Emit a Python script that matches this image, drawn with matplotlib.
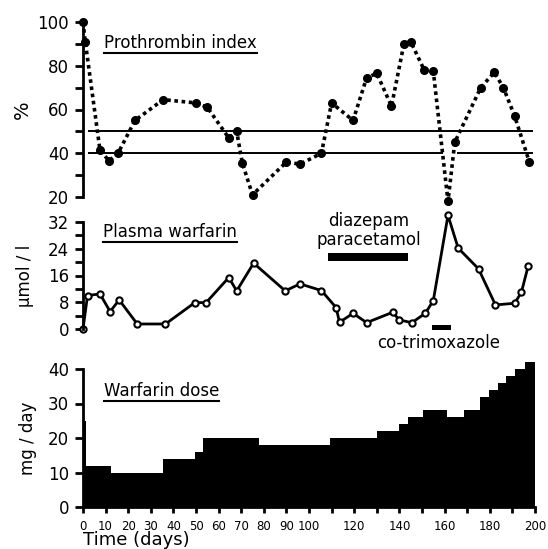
import matplotlib
matplotlib.use("Agg")
import matplotlib.pyplot as plt
from matplotlib.lines import Line2D

# prothrombin index (%)
pt_days = [0, 1, 7.5, 11.5, 15.5, 23, 35.5, 50, 55, 64.5, 68, 70.5, 75, 90, 96, 105.5,
           110, 119.5, 125.5, 130, 136.5, 142, 145, 151, 155, 161.5, 164.5, 176, 182, 186, 191, 197.5]
pt_vals = [100, 91, 41.5, 36.5, 40, 55, 64.5, 63, 61, 47, 50, 35.5, 21, 36, 35, 40,
           63, 55, 74.5, 76.5, 61.5, 90, 91, 78, 77.5, 18, 45, 70, 77, 70, 57, 36]

# plasma warfarin (umol/l)
pw_days = [0, 2, 7.5, 12, 16, 24, 36.5, 49.5, 54.5, 64.5, 68, 75.5, 89.5, 96, 105.5, 112,
           113.5, 119.5, 125.5, 137, 140, 145.5, 151.5, 155, 161.5, 166, 175, 182.5, 191, 194, 197]
pw_vals = [0, 10, 10.5, 5.2, 8.7, 1.5, 1.5, 7.9, 7.9, 15.4, 11.4, 19.7, 11.4, 13.5, 11.5, 6.4,
           2, 4.7, 1.9, 5, 2.7, 1.9, 4.7, 8.5, 34, 24.2, 18, 7.2, 7.7, 11, 18.9]

# warfarin dose (mg/day), steps
dose_edges = [0.3, 1.5, 12.5, 35.5, 49.5, 53, 78, 109.5, 130, 140, 144, 150.5, 161, 168.5,
              175.5, 179.5, 183.5, 187, 191, 195.5, 200]
dose_vals = [25, 12, 10, 14, 16, 20, 18, 20, 22, 24, 26, 28, 26, 28, 32, 34, 36, 38, 40, 42]

# drug periods (days)
diazepam_period = (108.5, 144)
cotrim_period = (154.5, 163)

ref_levels = [50, 40]

x_ticks = list(range(0, 201, 10))
x_labels = [str(t) if (t <= 100 or t % 20 == 0) else '' for t in x_ticks]

W, H = 548, 549
fig = plt.figure(figsize=(W / 100, H / 100), dpi=100)
plt.rcParams['font.family'] = ['DejaVu Sans']


def px_axes(x0, x1, ytop, ybot):
    return fig.add_axes([x0 / W, 1 - ybot / H, (x1 - x0) / W, (ybot - ytop) / H])


ax1 = px_axes(83, 535, 22, 197)
ax2 = px_axes(83, 535, 222, 329)
ax3 = px_axes(83, 535, 369, 507)

for ax in (ax1, ax2, ax3):
    ax.set_xlim(0, 200)
    for s in ('top', 'right'):
        ax.spines[s].set_visible(False)
    ax.spines['left'].set_linewidth(2)
    ax.tick_params(axis='y', direction='out', length=6, width=2, labelsize=12, pad=4)
    ax.set_facecolor('none')

for ax in (ax1, ax2):
    ax.spines['bottom'].set_visible(False)
    ax.set_xticks([])

# top: prothrombin
ax1.set_ylim(20, 100)
ax1.set_yticks([20, 40, 60, 80, 100])
ax1.set_yticks([30, 50, 70, 90], minor=True)
ax1.tick_params(axis='y', which='minor', length=6, width=2)
ax1.hlines(ref_levels[0], 2, 199, color='black', lw=1.4)
ax1.hlines(ref_levels[1], 2, 159.3, color='black', lw=1.4)
ax1.hlines(ref_levels[1], 165.5, 199, color='black', lw=1.4)
ax1.plot(pt_days, pt_vals, linestyle=(0, (1, 1)), lw=2.6, color='black',
         marker='o', markersize=5.5, clip_on=False)
ax1.set_ylabel('%', fontsize=14, labelpad=4)
t1 = ax1.text(9.5, 88, 'Prothrombin index', fontsize=12, va='baseline')

# middle: plasma warfarin
ax2.set_ylim(0, 32)
ax2.set_yticks([0, 8, 16, 24, 32])
ax2.set_yticks([4, 12, 20, 28], minor=True)
ax2.tick_params(axis='y', which='minor', length=6, width=2)
ax2.plot(pw_days, pw_vals, color='black', lw=2, marker='o', markersize=4.5,
         markerfacecolor='white', markeredgewidth=1.5, clip_on=False)
ax2.set_ylabel('µmol / l', fontsize=12, labelpad=10)
t2 = ax2.text(9, 27.6, 'Plasma warfarin', fontsize=12, va='baseline')
ax2.fill_between(diazepam_period, 20.2, 22.7, color='black', lw=0)
ax2.text(sum(diazepam_period) / 2, 24.0, 'diazepam\nparacetamol', fontsize=12,
         ha='center', va='bottom', multialignment='center', linespacing=1.05)
ax2.fill_between(cotrim_period, -0.3, 1.3, color='black', lw=0, clip_on=False)
ax2.text(157.5, -5.7, 'co-trimoxazole', fontsize=12, ha='center', va='baseline')

# bottom: dose
ax3.set_ylim(0, 40)
ax3.set_yticks([0, 10, 20, 30, 40])
ax3.spines['bottom'].set_linewidth(2)
widths = [b - a for a, b in zip(dose_edges[:-1], dose_edges[1:])]
ax3.bar(dose_edges[:-1], dose_vals, width=widths, align='edge', color='black',
        edgecolor='none', clip_on=False)
ax3.set_xticks(x_ticks)
ax3.set_xticklabels(x_labels)
ax3.tick_params(axis='x', direction='out', length=4, width=2, labelsize=8.5, pad=5)
ax3.set_ylabel('mg / day', fontsize=12, labelpad=8)
ax3.set_xlabel('Time (days)', fontsize=13, labelpad=-1, loc='left')
t3 = ax3.text(9.3, 32.2, 'Warfarin dose', fontsize=12, va='baseline')

# underline the panel titles
fig.canvas.draw()
r = fig.canvas.get_renderer()
for t in (t1, t2, t3):
    bb = t.get_window_extent(renderer=r)
    y = bb.y0 - 1
    fig.add_artist(Line2D([bb.x0 / W, bb.x1 / W], [y / H, y / H], color='black', lw=1.5))

fig.savefig('out.png', dpi=100)
